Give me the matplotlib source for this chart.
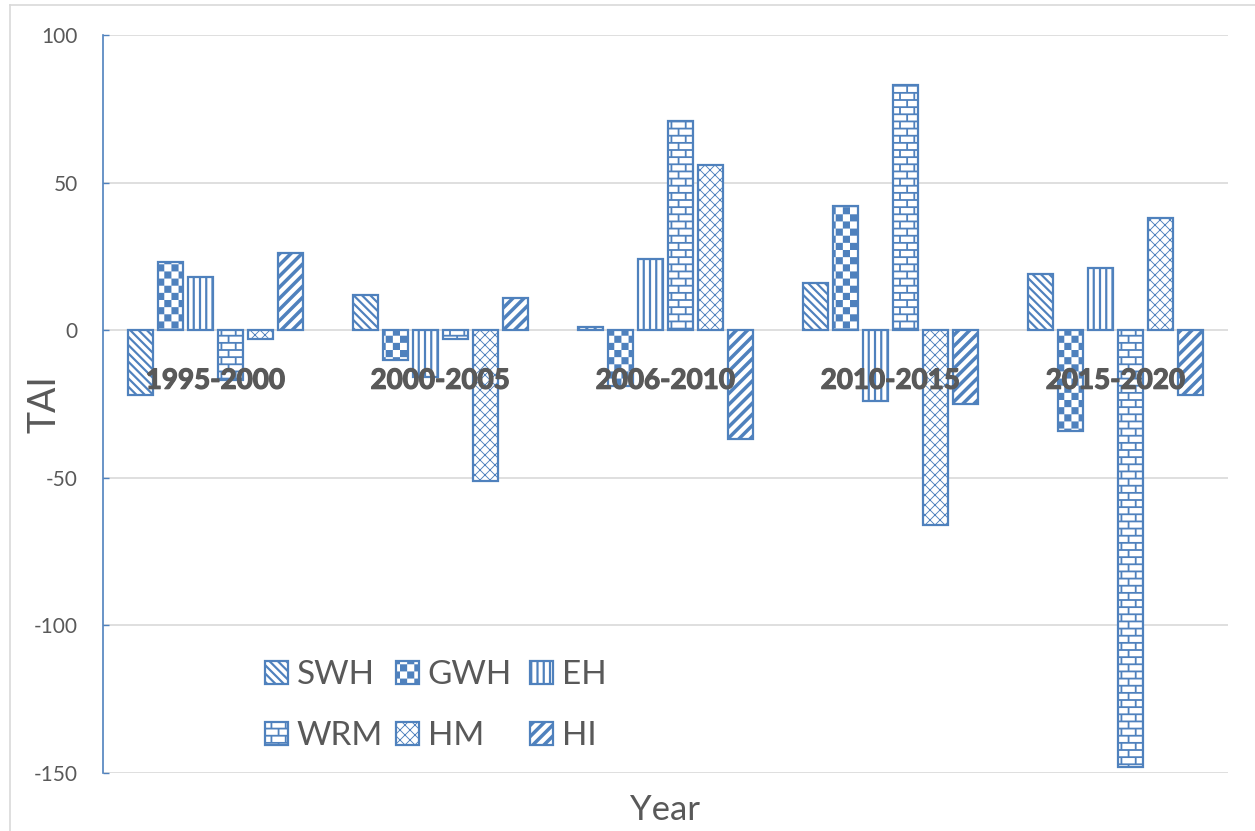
import warnings
warnings.filterwarnings('ignore')
import numpy as np
import matplotlib
matplotlib.use('Agg')
import matplotlib.pyplot as plt
import matplotlib.hatch as mhatch
import matplotlib.patheffects as pe
from matplotlib import font_manager as fm
from matplotlib.path import Path
from matplotlib.lines import Line2D

# ---------------- data ----------------
categories = ['1995-2000', '2000-2005', '2006-2010', '2010-2015', '2015-2020']
SWH = [-22, 12, 1, 16, 19]
GWH = [23, -10, -19, 42, -34]
EH = [18, -16, 24, -24, 21]
WRM = [-17, -3, 71, 83, -148]
HM = [-3, -51, 56, -66, 38]
HI = [26, 11, -37, -25, -22]
series_names = ['SWH', 'GWH', 'EH', 'WRM', 'HM', 'HI']
y_ticks = [-150, -100, -50, 0, 50, 100]

BLUE = '#4f81bd'
GRAY_TXT = '#595959'
GRID = '#d9d9d9'

plt.rcParams['font.family'] = ['Lato', 'DejaVu Sans']
plt.rcParams['axes.unicode_minus'] = False
plt.rcParams['hatch.linewidth'] = 0.0
plt.rcParams['hatch.color'] = BLUE

# locate a real bold font file for the category labels
bold_fp = None
for fam in ['Lato', 'Open Sans', 'Noto Sans', 'Liberation Sans', 'Roboto']:
    cands = [f for f in fm.fontManager.ttflist
             if f.name == fam and f.weight in ('bold', 700) and f.style == 'normal']
    if cands:
        bold_fp = fm.FontProperties(fname=cands[0].fname, size=20)
        break
if bold_fp is None:
    bold_fp = fm.FontProperties(family='DejaVu Sans', weight='bold', size=19)


# ---------------- custom hatch patterns (filled polygons in a unit tile) ----------------
def _rect(x0, y0, x1, y1):
    return [(x0, y0), (x1, y0), (x1, y1), (x0, y1)]


def diag_polys(n, w, up=True):
    h = w * np.sqrt(2) / 2
    polys = []
    for k in range(-n - 2, 2 * n + 3):
        c = k / n
        if up:
            polys.append([(-0.1, -0.1 + c - h), (1.1, 1.1 + c - h),
                          (1.1, 1.1 + c + h), (-0.1, -0.1 + c + h)])
        else:
            polys.append([(-0.1, 0.1 + c - h), (1.1, -1.1 + c - h),
                          (1.1, -1.1 + c + h), (-0.1, 0.1 + c + h)])
    return polys


def vert_polys(n, w):
    h = w / 2
    return [_rect(k / n - h, -0.1, k / n + h, 1.1) for k in range(0, n + 1)]


def brick_polys(n, w):
    h = w / 2
    polys = [_rect(-0.1, k / n - h, 1.1, k / n + h) for k in range(0, n + 1)]
    for r in range(n):
        y0, y1 = r / n + h, (r + 1) / n - h
        off = (r % 2) / n
        for j in range(-1, n // 2 + 2):
            xx = off + j * 2 / n
            polys.append(_rect(xx - h, y0, xx + h, y1))
    return polys


def checker_polys(n):
    polys = []
    for i in range(n):
        for j in range(n):
            if (i + j) % 2 == 0:
                polys.append(_rect(i / n, j / n, (i + 1) / n, (j + 1) / n))
    return polys


def register_hatch(char, polys):
    verts, codes = [], []
    for p in polys:
        verts.extend(p)
        verts.append(p[0])
        codes.extend([Path.MOVETO] + [Path.LINETO] * (len(p) - 1) + [Path.CLOSEPOLY])
    V = np.array(verts, float)
    C = np.array(codes, Path.code_type)

    def __init__(self, hatch, density):
        self.num_vertices = len(V) if (hatch and char in hatch) else 0
        self.filled = True

    def set_vertices_and_codes(self, vertices, codes_out):
        vertices[:] = V
        codes_out[:] = C

    cls = type('Hatch_' + char, (mhatch.HatchPatternBase,),
               {'__init__': __init__, 'set_vertices_and_codes': set_vertices_and_codes})
    mhatch._hatch_types.append(cls)


register_hatch('a', diag_polys(12, 0.022, up=False))          # SWH
register_hatch('c', checker_polys(14))                        # GWH
register_hatch('v', vert_polys(16, 0.022))                    # EH
register_hatch('b', brick_polys(14, 0.018))                   # WRM
register_hatch('k', diag_polys(10, 0.009, up=True) +
               diag_polys(10, 0.009, up=False))               # HM
register_hatch('h', diag_polys(9, 0.035, up=True))            # HI

hatches = ['a', 'c', 'v', 'b', 'k', 'h']
values = [SWH, GWH, EH, WRM, HM, HI]

# ---------------- figure ----------------
W, H = 1255, 831
fig = plt.figure(figsize=(W / 100, H / 100), dpi=100)
ax = fig.add_axes([103 / W, (H - 773) / H, (1228 - 103) / W, (773 - 35) / H])

x = np.arange(len(categories))
slot = 0.8 / len(series_names)
bw = slot * 0.83
bars = []
for i, (name, vals, hp) in enumerate(zip(series_names, values, hatches)):
    b = ax.bar(x + (i - 2.5) * slot, vals, width=bw, facecolor='white',
               edgecolor=BLUE, linewidth=1.6, hatch=hp, label=name, zorder=2)
    bars.append(b)

ax.set_xlim(-0.5, len(categories) - 0.5)
ax.set_ylim(-150, 100)
ax.set_yticks(y_ticks)
ax.yaxis.grid(True, color=GRID, linewidth=1.2)
ax.set_axisbelow(True)

for s in ['top', 'right']:
    ax.spines[s].set_visible(False)
ax.spines['bottom'].set_position(('data', 0))
ax.spines['bottom'].set_visible(False)
ax.spines['left'].set_color(BLUE)
ax.spines['left'].set_linewidth(1.2)

ax.tick_params(axis='y', direction='in', length=4, width=1.0, color=BLUE,
               labelsize=15, labelcolor=GRAY_TXT, pad=18)
ax.set_xticks(x, categories, fontproperties=bold_fp,
              path_effects=[pe.withStroke(linewidth=0.9, foreground=GRAY_TXT)])
ax.tick_params(axis='x', length=0, pad=27, labelcolor=GRAY_TXT)
ax.xaxis.set_zorder(5)

ax.set_ylabel('TAI', fontsize=27, color=GRAY_TXT)
ax.yaxis.set_label_coords(-0.036, 0.5)
ax.set_xlabel('Year', fontsize=25, color=GRAY_TXT)
ax.xaxis.set_label_coords(0.5, -0.028)

# legend: three columns (Excel-style equal column widths), two rows each
col_x = [265, 396, 530]
legs = []
for c in range(3):
    leg = ax.legend([bars[c], bars[c + 3]], [series_names[c], series_names[c + 3]],
                    ncol=1, loc='upper left', bbox_to_anchor=(col_x[c] / W, (H - 660) / H),
                    bbox_transform=fig.transFigure, frameon=False, fontsize=24,
                    labelcolor=GRAY_TXT, handlelength=0.7, handleheight=0.7,
                    handletextpad=0.25, labelspacing=0.93,
                    borderpad=0, borderaxespad=0)
    legs.append(leg)
for leg in legs[:-1]:
    ax.add_artist(leg)

# outer frame (top and left edges visible)
fig.add_artist(Line2D([10 / W, 10 / W], [0, (H - 5) / H], transform=fig.transFigure,
                      color=GRID, linewidth=1.2))
fig.add_artist(Line2D([10 / W, 1], [(H - 5) / H, (H - 5) / H], transform=fig.transFigure,
                      color=GRID, linewidth=1.2))

fig.savefig('out.png', dpi=100, facecolor='white')
